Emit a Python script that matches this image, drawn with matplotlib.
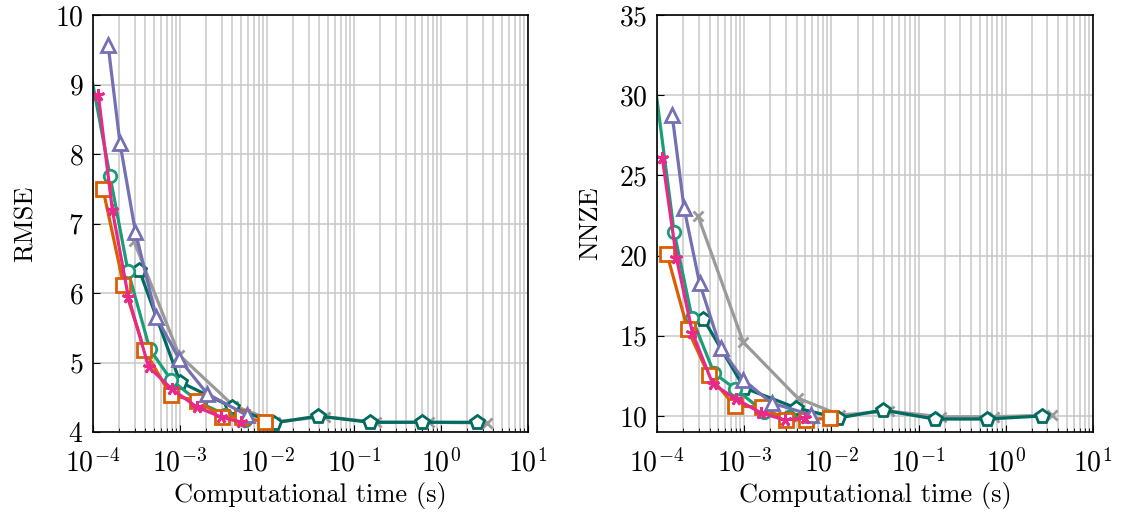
import numpy as np
import matplotlib
matplotlib.use("Agg")
import matplotlib.pyplot as plt
from matplotlib.ticker import LogLocator, NullFormatter

plt.rcParams["font.family"] = "serif"
plt.rcParams["font.serif"] = ["cmr10", "DejaVu Serif"]
plt.rcParams["mathtext.fontset"] = "cm"
plt.rcParams["axes.formatter.use_mathtext"] = True

# computational time (s) per method
t_green = [6.0e-5, 1.57e-4, 2.52e-4, 4.5e-4, 7.9e-4, 1.7e-3, 3.3e-3, 5.6e-3]
t_orange = [1.30e-4, 2.24e-4, 3.9e-4, 7.8e-4, 1.58e-3, 3.05e-3, 5.1e-3, 9.5e-3]
t_pink = [1.15e-4, 1.67e-4, 2.55e-4, 4.35e-4, 8.0e-4, 1.56e-3, 2.92e-3, 5.0e-3]
t_purple = [1.49e-4, 2.04e-4, 3.07e-4, 5.35e-4, 9.8e-4, 2.06e-3, 5.9e-3]
t_gray = [2.95e-4, 9.75e-4, 4.1e-3, 1.25e-2, 4.6e-2, 0.18, 0.73, 3.35]
t_teal = [3.4e-4, 1.0e-3, 3.95e-3, 1.2e-2, 3.88e-2, 0.152, 0.605, 2.6]

# RMSE
rmse_green = [10.48, 7.68, 6.32, 5.19, 4.75, 4.42, 4.25, 4.17]
rmse_orange = [7.50, 6.12, 5.18, 4.53, 4.45, 4.22, 4.22, 4.14]
rmse_pink = [8.85, 7.19, 5.94, 4.94, 4.62, 4.36, 4.22, 4.14]
rmse_purple = [9.57, 8.16, 6.88, 5.65, 5.05, 4.55, 4.24]
rmse_gray = [6.75, 5.11, 4.38, 4.15, 4.22, 4.14, 4.14, 4.13]
rmse_teal = [6.33, 4.72, 4.36, 4.13, 4.23, 4.14, 4.14, 4.14]

# NNZE
nnze_green = [39.0, 21.47, 16.1, 12.68, 11.68, 10.25, 9.95, 9.8]
nnze_orange = [20.1, 15.42, 12.56, 10.62, 10.56, 9.75, 9.75, 9.87]
nnze_pink = [26.08, 19.85, 15.17, 12.0, 11.06, 10.19, 9.75, 9.87]
nnze_purple = [28.77, 22.97, 18.29, 14.24, 12.24, 10.81, 10.06]
nnze_gray = [22.47, 14.6, 11.12, 10.06, 10.3, 9.95, 9.95, 10.06]
nnze_teal = [16.05, 11.75, 10.5, 9.87, 10.37, 9.81, 9.81, 10.0]

styles = {
    "gray": dict(color="#9a9a9a", marker="x", ms=7),
    "teal": dict(color="#006b5e", marker="p", ms=10),
    "green": dict(color="#1b9e77", marker="o", ms=9),
    "orange": dict(color="#d95f02", marker="s", ms=10),
    "purple": dict(color="#7570b3", marker="^", ms=10),
    "pink": dict(color="#e7298a", marker=(5, 2, 0), ms=9),
}

left_series = [
    ("gray", t_gray, rmse_gray),
    ("teal", t_teal, rmse_teal),
    ("green", t_green, rmse_green),
    ("orange", t_orange, rmse_orange),
    ("purple", t_purple, rmse_purple),
    ("pink", t_pink, rmse_pink),
]
right_series = [
    ("gray", t_gray, nnze_gray),
    ("teal", t_teal, nnze_teal),
    ("green", t_green, nnze_green),
    ("orange", t_orange, nnze_orange),
    ("purple", t_purple, nnze_purple),
    ("pink", t_pink, nnze_pink),
]

fig = plt.figure(figsize=(11.22, 5.18), dpi=100)
ax1 = fig.add_axes([0.0829, 0.166, 0.3877, 0.805])
ax2 = fig.add_axes([0.5856, 0.166, 0.3886, 0.805])


def draw(ax, series, ylabel, ylim, yticks):
    for name, t, v in series:
        st = styles[name]
        ax.plot(t, v, color=st["color"], marker=st["marker"], markersize=st["ms"],
                markerfacecolor="white", markeredgecolor=st["color"],
                markeredgewidth=2.0, linewidth=2.3)
    ax.set_xscale("log")
    ax.set_xlim(1e-4, 1e1)
    ax.set_ylim(*ylim)
    ax.set_yticks(yticks)
    ax.xaxis.set_major_locator(LogLocator(base=10, numticks=10))
    ax.xaxis.set_minor_locator(LogLocator(base=10, subs=np.arange(2, 10), numticks=20))
    ax.xaxis.set_minor_formatter(NullFormatter())
    ax.grid(True, which="major", color="#c8c8c8", linewidth=1.1)
    ax.grid(True, which="minor", axis="x", color="#c8c8c8", linewidth=1.1)
    ax.set_axisbelow(True)
    ax.tick_params(which="both", direction="in", labelsize=20)
    ax.tick_params(axis="x", pad=12)
    ax.tick_params(axis="y", pad=7)
    ax.tick_params(which="minor", length=3)
    ax.tick_params(which="major", length=5)
    for s in ax.spines.values():
        s.set_linewidth(1.2)
    ax.set_xlabel("Computational time (s)", fontsize=19, labelpad=3)
    ax.set_ylabel(ylabel, fontsize=19, labelpad=12)


draw(ax1, left_series, "RMSE", (4, 10), range(4, 11))
draw(ax2, right_series, "NNZE", (9, 35), range(10, 36, 5))

fig.savefig("out.png", dpi=100)
